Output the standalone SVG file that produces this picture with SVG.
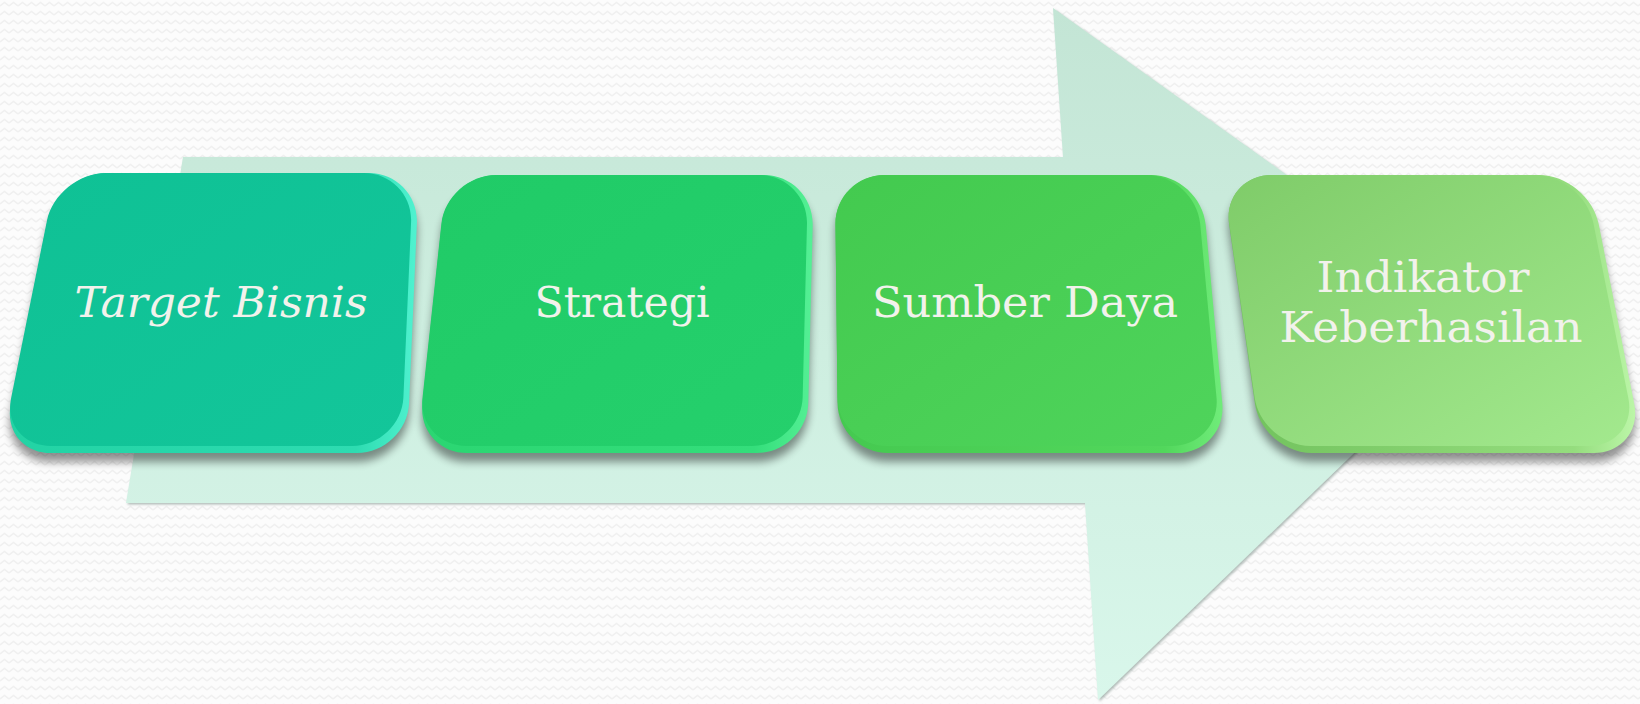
<svg xmlns="http://www.w3.org/2000/svg" xmlns:xlink="http://www.w3.org/1999/xlink" width="1640" height="704" viewBox="0 0 1640 704">
  <style>
    .lbl { font-family: "DejaVu Serif", "Liberation Serif", serif; font-size: 42px; fill: #f2f2ec; text-anchor: middle; }
    .it { font-style: italic; }
    .shadow { fill: #000; opacity: 0.42; filter: url(#blur); }
  </style>
  <defs>
    <pattern id="zig" width="9" height="9" patternUnits="userSpaceOnUse">
      <rect width="9" height="9" fill="#fcfcfc"/>
      <polyline points="0,6 4.5,2.5 9,6" fill="none" stroke="#f0f0f0" stroke-width="1.4"/>
    </pattern>
    <filter id="blur" x="-10%" y="-10%" width="120%" height="130%">
      <feGaussianBlur stdDeviation="4.5"/>
    </filter>
    <filter id="arrowShadow" x="-5%" y="-5%" width="110%" height="110%">
      <feDropShadow dx="1.5" dy="1.5" stdDeviation="1.2" flood-color="#7f918a" flood-opacity="0.6"/>
    </filter>
    <linearGradient id="arrowFill" gradientUnits="userSpaceOnUse" x1="0" y1="8" x2="0" y2="700">
      <stop offset="0" stop-color="#c3e5d5"/>
      <stop offset="1" stop-color="#d9f7eb"/>
    </linearGradient>

    <path id="p1" d="M107,173 L369,173 C396.5,173 418,195.5 416.9,223 L409.1,403 C408,430.5 384.5,453 357,453 L51,453 C23.5,453 5.4,430.9 10.8,404 L47.2,222 C52.6,195.1 79.5,173 107,173 Z"/>
    <path id="p2" d="M497,175 L764,175 C791.5,175 813.4,197.5 812.7,225 L808.3,403 C807.6,430.5 784.5,453 757,453 L467,453 C439.5,453 419.4,430.6 422.4,403.3 L441.6,224.7 C444.6,197.4 469.5,175 497,175 Z"/>
    <path id="p3" d="M885,175 L1151,175 C1178.5,175 1203.1,197.4 1205.7,224.8 L1222.3,403.2 C1224.9,430.6 1204.5,453 1177,453 L888,453 C860.5,453 837.8,430.5 837.5,403 L835.5,225 C835.2,197.5 857.5,175 885,175 Z"/>
    <path id="p4" d="M1272,175 L1539,175 C1566.5,175 1593.4,197.1 1598.7,224.1 L1634.3,404 C1639.6,430.9 1621.5,453 1594,453 L1312,453 C1284.5,453 1258.8,430.7 1254.9,403.5 L1229.1,224.5 C1225.2,197.3 1244.5,175 1272,175 Z"/>

    <linearGradient id="rim1" x1="0" y1="0" x2="1" y2="0">
      <stop offset="0" stop-color="#22d3a4"/>
      <stop offset="0.85" stop-color="#2edcb1"/>
      <stop offset="1" stop-color="#50f2d0"/>
    </linearGradient>
    <linearGradient id="face1" x1="0" y1="0" x2="1" y2="1">
      <stop offset="0" stop-color="#0fc195"/>
      <stop offset="1" stop-color="#13c69a"/>
    </linearGradient>
    <linearGradient id="rim2" x1="0" y1="0" x2="1" y2="0">
      <stop offset="0" stop-color="#2bd672"/>
      <stop offset="0.85" stop-color="#34de7b"/>
      <stop offset="1" stop-color="#55f095"/>
    </linearGradient>
    <linearGradient id="face2" x1="0" y1="0" x2="1" y2="1">
      <stop offset="0" stop-color="#20cb67"/>
      <stop offset="1" stop-color="#25d06c"/>
    </linearGradient>
    <linearGradient id="rim3" x1="0" y1="0" x2="1" y2="0">
      <stop offset="0" stop-color="#45c950"/>
      <stop offset="0.85" stop-color="#52d75c"/>
      <stop offset="1" stop-color="#70ec7a"/>
    </linearGradient>
    <linearGradient id="face3" x1="0" y1="0" x2="1" y2="1">
      <stop offset="0" stop-color="#43ca4f"/>
      <stop offset="1" stop-color="#4fd45b"/>
    </linearGradient>
    <linearGradient id="rim4" x1="0" y1="0" x2="1" y2="0">
      <stop offset="0" stop-color="#70c15c"/>
      <stop offset="0.85" stop-color="#95dd7e"/>
      <stop offset="1" stop-color="#bcf6a8"/>
    </linearGradient>
    <linearGradient id="face4" x1="0" y1="0" x2="1" y2="1">
      <stop offset="0" stop-color="#7fcc69"/>
      <stop offset="1" stop-color="#a3e98e"/>
    </linearGradient>
  </defs>

  <rect id="background" width="1640" height="704" fill="url(#zig)"/>

  <g id="connectors">
    <polygon id="flow-arrow" points="183,157 1063,157 1053,8 1491,321 1098,700 1085,503 126,503" fill="url(#arrowFill)" filter="url(#arrowShadow)"/>
  </g>

  <g id="node-target-bisnis">
    <use xlink:href="#p1" href="#p1" class="shadow" transform="translate(0,9)"/>
    <use xlink:href="#p1" href="#p1" fill="url(#rim1)"/>
    <use xlink:href="#p1" href="#p1" fill="url(#face1)" transform="translate(30,173) scale(0.985,0.975) translate(-30,-173)"/>
    <text class="lbl it" x="221" y="317" textLength="293" lengthAdjust="spacingAndGlyphs">Target Bisnis</text>
  </g>

  <g id="node-strategi">
    <use xlink:href="#p2" href="#p2" class="shadow" transform="translate(0,9)"/>
    <use xlink:href="#p2" href="#p2" fill="url(#rim2)"/>
    <use xlink:href="#p2" href="#p2" fill="url(#face2)" transform="translate(432,175) scale(0.985,0.975) translate(-432,-175)"/>
    <text class="lbl" x="622" y="317" textLength="175" lengthAdjust="spacingAndGlyphs">Strategi</text>
  </g>

  <g id="node-sumber-daya">
    <use xlink:href="#p3" href="#p3" class="shadow" transform="translate(0,9)"/>
    <use xlink:href="#p3" href="#p3" fill="url(#rim3)"/>
    <use xlink:href="#p3" href="#p3" fill="url(#face3)" transform="translate(836,175) scale(0.985,0.975) translate(-836,-175)"/>
    <text class="lbl" x="1025" y="317" textLength="306" lengthAdjust="spacingAndGlyphs">Sumber Daya</text>
  </g>

  <g id="node-indikator-keberhasilan">
    <use xlink:href="#p4" href="#p4" class="shadow" transform="translate(0,9)"/>
    <use xlink:href="#p4" href="#p4" fill="url(#rim4)"/>
    <use xlink:href="#p4" href="#p4" fill="url(#face4)" transform="translate(1240,175) scale(0.985,0.975) translate(-1240,-175)"/>
    <text class="lbl" x="1423" y="292" textLength="213" lengthAdjust="spacingAndGlyphs">Indikator</text>
    <text class="lbl" x="1431" y="342" textLength="303" lengthAdjust="spacingAndGlyphs">Keberhasilan</text>
  </g>
</svg>
